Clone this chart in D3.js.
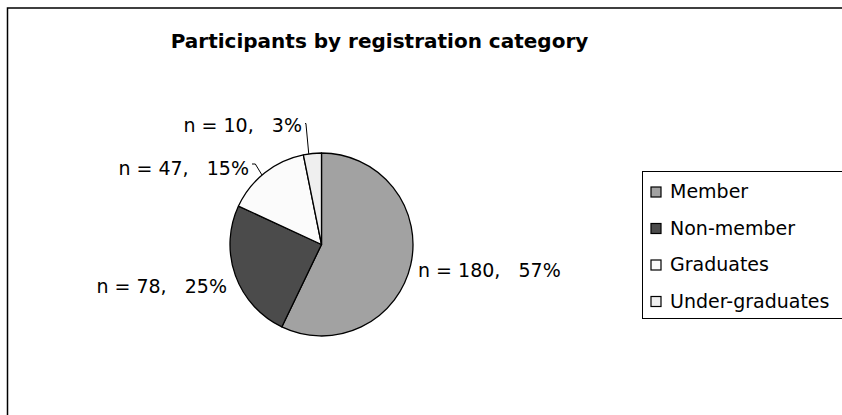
<!DOCTYPE html>
<html>
<head>
<meta charset="utf-8">
<script src="https://cdn.jsdelivr.net/npm/d3@7"></script>
<style>
    body { margin: 0; background: #fff; }
    text { font-family: "DejaVu Sans", sans-serif; fill: #000; }
    .lbl { white-space: pre; }
</style>
</head>
<body>
<svg width="842" height="415"></svg>
<script>
// chart data
var categories = ["Member", "Non-member", "Graduates", "Under-graduates"];
var counts = [180, 78, 47, 10];
var percents = ["57%", "25%", "15%", "3%"];
var sliceColors = ["#a2a2a2", "#4b4b4b", "#fbfbfb", "#efefef"];

// where the data labels sit (layout only)
var labelLayout = [
    { x: 418, y: 277, anchor: "start", leader: false },
    { x: 227, y: 293, anchor: "end", leader: false, tick: 0 },
    { x: 249, y: 175, anchor: "end", leader: true, tick: 11 },
    { x: 302, y: 132, anchor: "end", leader: true, tick: 8.5 }
];

var svg = d3.select("svg");

/* outer chart border, right and bottom edges fall outside the window */
svg.append("rect")
    .attr("x", 7.5).attr("y", 8)
    .attr("width", 900).attr("height", 500)
    .attr("fill", "none")
    .attr("stroke", "#000")
    .attr("stroke-width", 1.5);

svg.append("text")
    .attr("x", 379.5)
    .attr("y", 48)
    .attr("text-anchor", "middle")
    .style("font-size", "20px")
    .style("font-weight", "bold")
    .text("Participants by registration category");

var cx = 321.5, cy = 244.5, r = 91.5;

var pie = d3.pie().sort(null).value(function(d) { return d; });
var arc = d3.arc().innerRadius(0).outerRadius(r);
var arcs = pie(counts);

var g = svg.append("g").attr("transform", "translate(" + cx + "," + cy + ")");

g.selectAll("path")
    .data(arcs)
    .enter().append("path")
    .attr("d", arc)
    .attr("fill", function(d, i) { return sliceColors[i]; })
    .attr("stroke", "#000")
    .attr("stroke-width", 1.3)
    .attr("stroke-linejoin", "round");

// data labels
svg.selectAll("text.lbl")
    .data(arcs)
    .enter().append("text")
    .attr("class", "lbl")
    .attr("x", function(d, i) { return labelLayout[i].x; })
    .attr("y", function(d, i) { return labelLayout[i].y; })
    .attr("text-anchor", function(d, i) { return labelLayout[i].anchor; })
    .style("font-size", "19px")
    .text(function(d, i) { return "n = " + counts[i] + ",   " + percents[i]; });

// leader lines for the small slices
arcs.forEach(function(d, i) {
    var lay = labelLayout[i];
    if (!lay.leader) return;
    var a = (d.startAngle + d.endAngle) / 2 - 0.04;
    var ex = cx + r * Math.sin(a), ey = cy - r * Math.cos(a);
    var ly = lay.y - lay.tick;
    var hx = lay.x + 3, kx = ex - (ey - ly) * 0.06 - (i == 2 ? 6 : 1);
    svg.append("path")
        .attr("d", d3.line()([[hx, ly], [kx, ly], [ex, ey]]))
        .attr("fill", "none")
        .attr("stroke", "#000")
        .attr("stroke-width", 1);
});

// legend
var lg = svg.append("g");
lg.append("rect")
    .attr("x", 642.5).attr("y", 171.5)
    .attr("width", 250).attr("height", 147)
    .attr("fill", "#fff")
    .attr("stroke", "#000")
    .attr("stroke-width", 1);

var item = lg.selectAll("g.item")
    .data(categories)
    .enter().append("g")
    .attr("class", "item")
    .attr("transform", function(d, i) { return "translate(0," + (198 + i * 36.5) + ")"; });

item.append("rect")
    .attr("x", 651).attr("y", -11)
    .attr("width", 10).attr("height", 10)
    .attr("fill", function(d, i) { return sliceColors[i]; })
    .attr("stroke", "#000")
    .attr("stroke-width", 1.2);

item.append("text")
    .attr("x", 670)
    .attr("y", 0)
    .style("font-size", "19px")
    .text(function(d) { return d; });
</script>
</body>
</html>
